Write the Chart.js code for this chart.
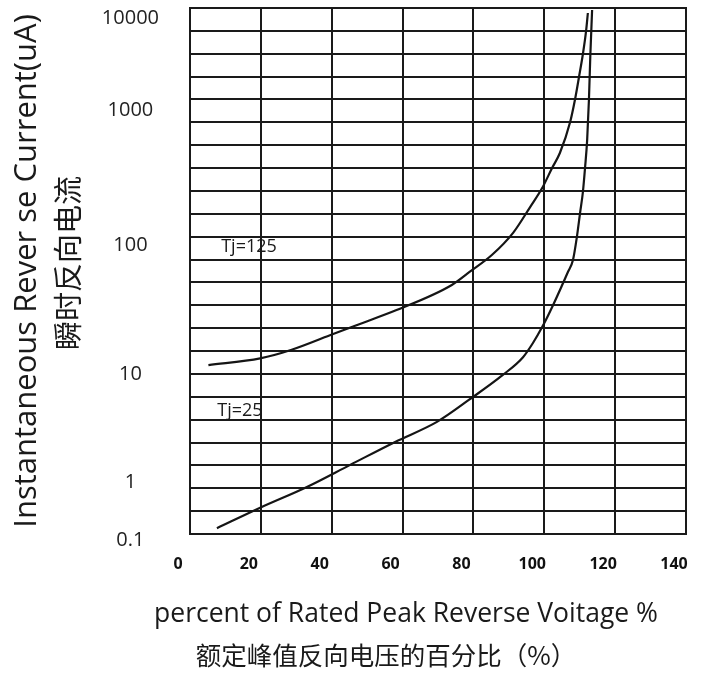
<!DOCTYPE html>
<html>
<head>
<meta charset="utf-8">
<script src="https://cdn.jsdelivr.net/npm/chart.js@4.4.1/dist/chart.umd.min.js"></script>
<style>
html,body{margin:0;padding:0;background:#fff;}
#wrap{position:relative;width:703px;height:680px;}
</style>
</head>
<body>
<div id="wrap"><canvas id="c"></canvas></div>
<script>
// ---- data ----
const xTickValues = [0, 20, 40, 60, 80, 100, 120, 140];
const yTickValues = [0.1, 1, 10, 100, 1000, 10000];

const tj125X = [5.2, 19.8, 28.7, 40.4, 46.6, 58.3, 73.9, 79.0, 85.2, 91.2, 96.0, 99.4, 102.2, 104.4, 107.3, 108.7, 109.8, 110.9, 111.8, 112.3];
const tj125Y = [11.7, 13.2, 15.4, 20.4, 23.7, 31.3, 49.0, 62.1, 83.6, 123, 191, 264, 372, 480, 815, 1318, 2285, 4060, 7230, 11330];

const tj25X = [7.6, 19.8, 33.0, 45.2, 57.9, 69.7, 78.7, 88.3, 94.0, 96.8, 99.4, 102.5, 106.7, 108.1, 109.2, 110.1, 110.9, 111.5, 112.1, 112.6, 113.0, 113.5];
const tj25Y = [0.16, 0.36, 0.82, 1.44, 2.35, 3.6, 5.75, 9.8, 13.5, 17.4, 23.1, 34.3, 62.0, 76.6, 114.6, 172.6, 247, 372, 598, 1285, 3960, 12200];

const seriesLabels = ['Tj=125', 'Tj=25'];
const yTitle = ['Instantaneous Rever se Current(uA)', '瞬时反向电流'];
const xTitle = ['percent of Rated Peak Reverse Voitage %', '额定峰值反向电压的百分比（%）'];

// ---- custom piecewise-log scale (the printed axis is not a true log scale) ----
class PiecewiseLogScale extends Chart.Scale {
  _anchors() {
    const fr = this.options.labelFractions;
    return this.options.tickValues.map((v, i) => [Math.log10(v), fr[i]]);
  }
  _fracOf(v) {
    const a = this._anchors(); const l = Math.log10(v);
    let i = 0;
    while (i < a.length - 2 && l > a[i + 1][0]) i++;
    const l0 = a[i][0], f0 = a[i][1], l1 = a[i + 1][0], f1 = a[i + 1][1];
    return f0 + (l - l0) * (f1 - f0) / (l1 - l0);
  }
  _valOf(f) {
    const a = this._anchors();
    let i = 0;
    while (i < a.length - 2 && f > a[i + 1][1]) i++;
    const l0 = a[i][0], f0 = a[i][1], l1 = a[i + 1][0], f1 = a[i + 1][1];
    return Math.pow(10, l0 + (f - f0) * (l1 - l0) / (f1 - f0));
  }
  determineDataLimits() { this.min = this._valOf(0); this.max = this._valOf(1); }
  buildTicks() { return this.options.tickValues.map(v => ({ value: v })); }
  getLabelForValue(v) { return String(v); }
  getPixelForValue(v) { return this.getPixelForDecimal(this._fracOf(v)); }
  getValueForPixel(p) { return this._valOf(this.getDecimalForPixel(p)); }
  getPixelForTick(i) { return this.getPixelForValue(this.ticks[i].value); }
}
PiecewiseLogScale.id = 'piecewiseLog';
PiecewiseLogScale.defaults = {};
Chart.register(PiecewiseLogScale);

const toPoints = (xs, ys) => xs.map((x, i) => ({ x: x, y: ys[i] }));
const noPad = s => { s.paddingTop = 0; s.paddingBottom = 0; s.paddingLeft = 0; s.paddingRight = 0; };

const textPlugin = {
  id: 'texts',
  afterDraw(chart) {
    const ctx = chart.ctx;
    const xs = chart.scales.x, ys = chart.scales.y;
    ctx.save();
    ctx.fillStyle = '#1a1a1a';
    ctx.textBaseline = 'middle';
    // curve annotations
    ctx.font = '18px "Open Sans"';
    ctx.textAlign = 'left';
    ctx.fillText(seriesLabels[0], xs.getPixelForValue(8.8), ys.getPixelForValue(96));
    ctx.fillText(seriesLabels[1], xs.getPixelForValue(7.7), ys.getPixelForValue(4.6));
    // y title (rotated)
    ctx.textAlign = 'center';
    ctx.save();
    ctx.translate(27, 271);
    ctx.rotate(-Math.PI / 2);
    ctx.font = '31px "Open Sans"';
    ctx.fillText(yTitle[0], 0, 0);
    ctx.restore();
    ctx.save();
    ctx.translate(68, 263);
    ctx.rotate(-Math.PI / 2);
    ctx.font = '29px "Noto Sans CJK SC"';
    ctx.fillText(yTitle[1], 0, 0);
    ctx.restore();
    // x title
    ctx.font = '26.5px "Open Sans"';
    ctx.fillText(xTitle[0], 406, 614);
    ctx.font = '25.5px "Noto Sans CJK SC"';
    ctx.fillText(xTitle[1], 386, 655);
    ctx.restore();
  }
};

const lineStyle = {
  borderColor: '#151515',
  borderWidth: 2.2,
  pointRadius: 0,
  fill: false,
  cubicInterpolationMode: 'monotone'
};

new Chart(document.getElementById('c'), {
  type: 'line',
  data: {
    datasets: [
      Object.assign({ label: seriesLabels[0], data: toPoints(tj125X, tj125Y) }, lineStyle),
      Object.assign({ label: seriesLabels[1], data: toPoints(tj25X, tj25Y) }, lineStyle)
    ]
  },
  options: {
    responsive: true,
    maintainAspectRatio: false,
    animation: false,
    layout: { padding: { left: 0, top: 8, right: 17, bottom: 0 } },
    plugins: { legend: { display: false }, tooltip: { enabled: false } },
    scales: {
      x: {
        type: 'linear',
        min: xTickValues[0],
        max: xTickValues[xTickValues.length - 1],
        afterBuildTicks: s => { s.ticks = xTickValues.map(v => ({ value: v })); },
        afterFit: s => { s.height = 146; noPad(s); },
        ticks: {
          padding: 21,
          labelOffset: -12,
          maxRotation: 0,
          autoSkip: false,
          color: '#111',
          font: { family: 'Open Sans', size: 16, weight: 'bold' }
        },
        grid: { color: '#1a1a1a', lineWidth: 2, drawTicks: false },
        border: { display: true, color: '#1a1a1a', width: 2 }
      },
      y: {
        type: 'piecewiseLog',
        position: 'left',
        tickValues: yTickValues,
        labelFractions: [-0.0114, 0.0989, 0.3042, 0.5494, 0.8061, 0.9810],
        afterFit: s => { s.width = 190; noPad(s); },
        ticks: {
          padding: 31,
          crossAlign: 'center',
          autoSkip: false,
          color: '#222',
          font: { family: 'Open Sans', size: 20 },
          callback: v => String(v)
        },
        grid: { display: false, drawTicks: false },
        border: { display: true, color: '#1a1a1a', width: 2 }
      },
      yGrid: {
        type: 'linear',
        axis: 'y',
        position: 'right',
        min: 0,
        max: 23,
        afterFit: s => { s.width = 0; noPad(s); },
        ticks: { display: false, stepSize: 1 },
        grid: { color: '#1a1a1a', lineWidth: 2, drawTicks: false },
        border: { display: true, color: '#1a1a1a', width: 2 }
      }
    }
  },
  plugins: [textPlugin]
});
</script>
</body>
</html>
